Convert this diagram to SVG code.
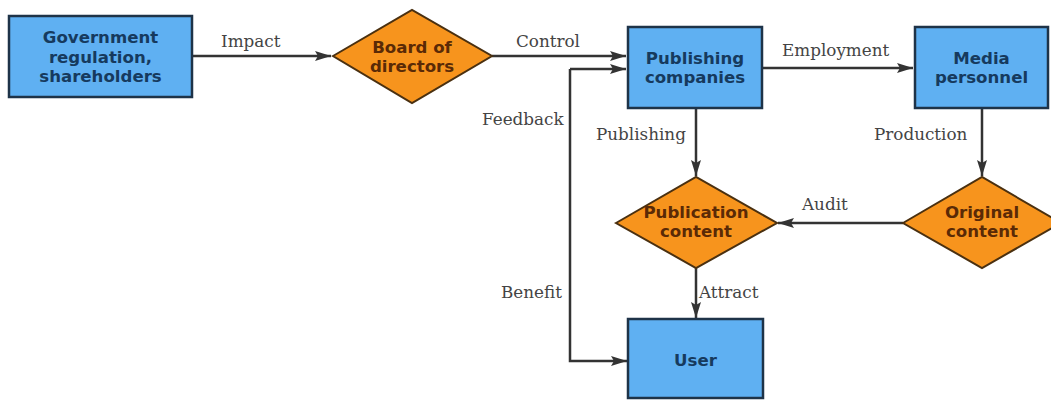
<svg xmlns="http://www.w3.org/2000/svg" width="1051" height="401" viewBox="0 0 1051 401">
<style>
.box{fill:#5fb0f2;stroke:#1e3348;stroke-width:2.5}
.dia{fill:#f7941d;stroke:#4a3010;stroke-width:2}
.nt{font-family:"DejaVu Sans",Verdana,sans-serif;font-weight:bold;font-size:16.6px;text-anchor:middle}
.bt{fill:#163a5e}
.dt{fill:#5a2a06}
.el{font-family:"DejaVu Serif","Liberation Serif",serif;font-size:16.8px;fill:#444}
.ln{fill:none;stroke:#333;stroke-width:2.5}
</style>
<defs>
<marker id="ah" viewBox="0 0 16 10" refX="16" refY="5" markerWidth="16" markerHeight="10" markerUnits="userSpaceOnUse" orient="auto">
<path d="M0,0 L16,5 L0,10 L3,5 Z" fill="#333"/>
</marker>
</defs>
<rect width="1051" height="401" fill="#fff"/>
<g id="connectors">
<path class="ln" d="M192,56 L331,56" marker-end="url(#ah)"/>
<path class="ln" d="M492,56 L626,56" marker-end="url(#ah)"/>
<path class="ln" d="M762,68 L913,68" marker-end="url(#ah)"/>
<path class="ln" d="M696,108 L696,176" marker-end="url(#ah)"/>
<path class="ln" d="M982,108 L982,176" marker-end="url(#ah)"/>
<path class="ln" d="M903,223 L778,223" marker-end="url(#ah)"/>
<path class="ln" d="M696,268 L696,318" marker-end="url(#ah)"/>
<path class="ln" d="M570,69 L570,361 L627,361" marker-end="url(#ah)"/>
<path class="ln" d="M570,69 L626,69" marker-end="url(#ah)"/>
<text class="el" x="221" y="47">Impact</text>
<text class="el" x="516" y="47">Control</text>
<text class="el" x="782" y="56">Employment</text>
<text class="el" x="482" y="125">Feedback</text>
<text class="el" x="596" y="140">Publishing</text>
<text class="el" x="874" y="140">Production</text>
<text class="el" x="802" y="210">Audit</text>
<text class="el" x="501" y="298">Benefit</text>
<text class="el" x="699" y="298">Attract</text>
</g>
<g id="gov">
<rect class="box" x="9" y="16" width="183" height="81"/>
<text class="nt bt" x="100.5" y="43">Government</text>
<text class="nt bt" x="100.5" y="63">regulation,</text>
<text class="nt bt" x="100.5" y="82">shareholders</text>
</g>
<g id="board">
<polygon class="dia" points="333,56 412,10 492,56 412,103"/>
<text class="nt dt" x="412" y="53">Board of</text>
<text class="nt dt" x="412" y="72">directors</text>
</g>
<g id="pub">
<rect class="box" x="628" y="27" width="134" height="81"/>
<text class="nt bt" x="695" y="64">Publishing</text>
<text class="nt bt" x="695" y="83">companies</text>
</g>
<g id="media">
<rect class="box" x="915" y="27" width="133" height="81"/>
<text class="nt bt" x="981.5" y="64">Media</text>
<text class="nt bt" x="981.5" y="83">personnel</text>
</g>
<g id="pubcontent">
<polygon class="dia" points="616,223 696,177 777,223 696,268"/>
<text class="nt dt" x="696" y="218">Publication</text>
<text class="nt dt" x="696" y="237">content</text>
</g>
<g id="orig">
<polygon class="dia" points="903,223 982,177 1061,223 982,268"/>
<text class="nt dt" x="982" y="218">Original</text>
<text class="nt dt" x="982" y="237">content</text>
</g>
<g id="user">
<rect class="box" x="628" y="319" width="135" height="79"/>
<text class="nt bt" x="695.5" y="366">User</text>
</g>
</svg>
